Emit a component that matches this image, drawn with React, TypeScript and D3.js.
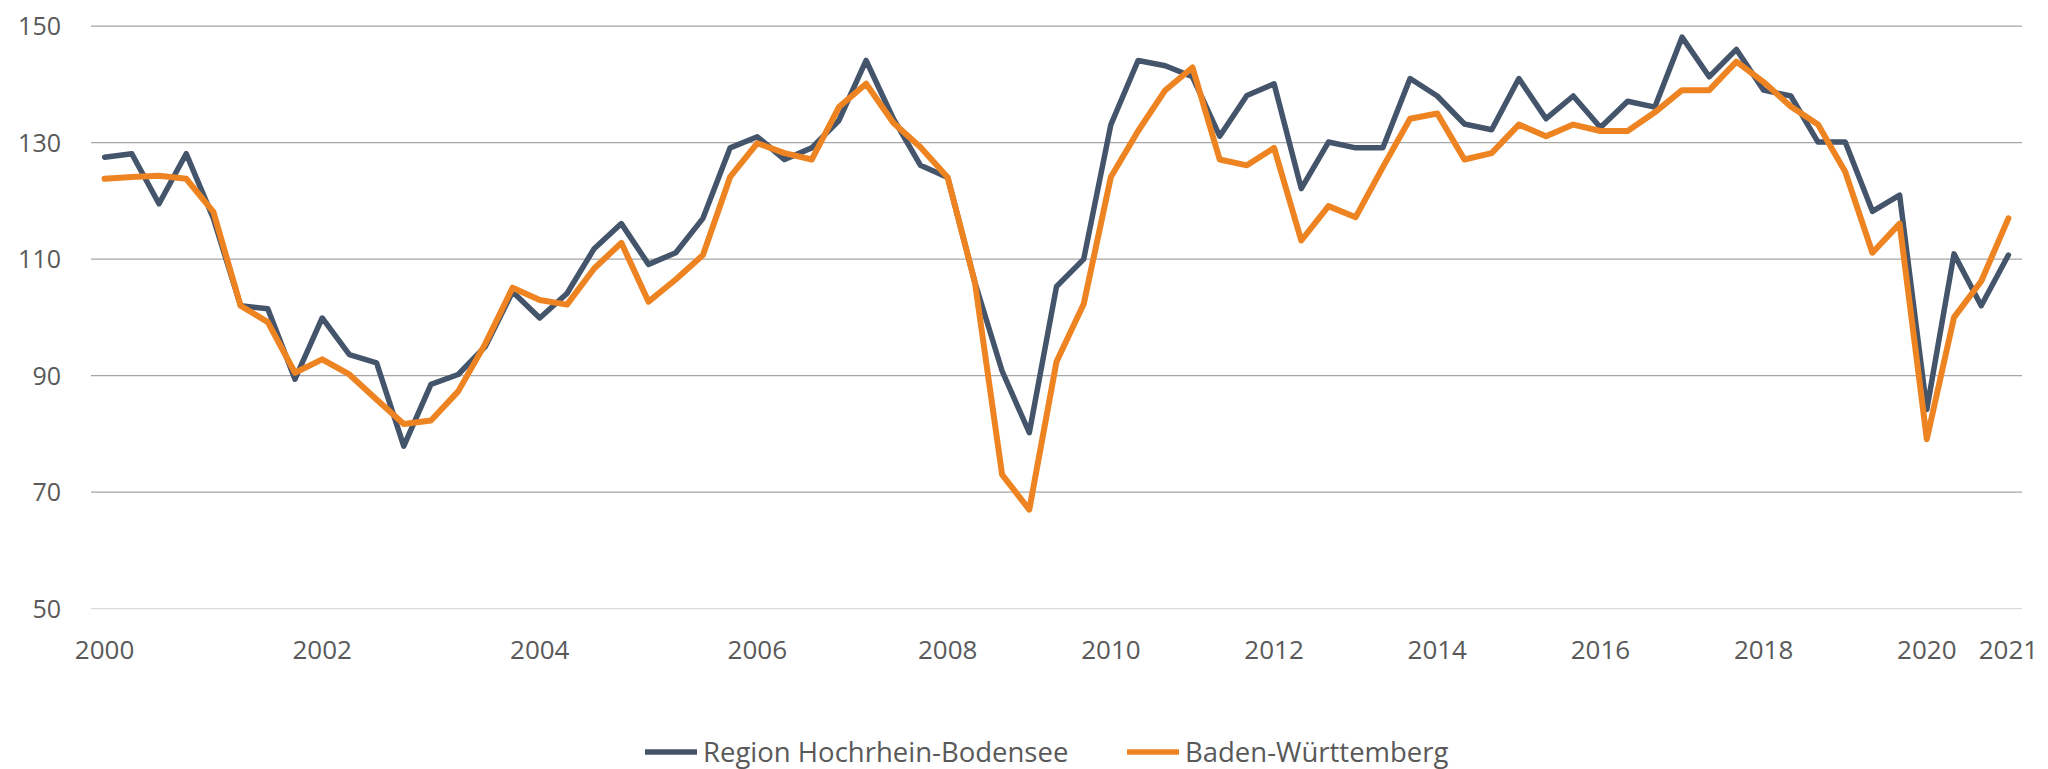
import * as d3 from "d3";

// quarterly until 2007, then three surveys per year
const tickIndex = [0, 8, 16, 24, 31, 37, 43, 49, 55, 61, 67, 70];
const tickLabels = ["2000", "2002", "2004", "2006", "2008", "2010", "2012", "2014", "2016", "2018", "2020", "2021"];

const region = [
	127.5, 128.1, 119.5, 128.1, 117, 102.0, 101.5, 89.4, 99.9, 93.6,
	92.2, 77.9, 88.5, 90.2, 95, 104.4, 99.9, 104.1, 111.8, 116.1,
	109.1, 111.1, 117.0, 129.1, 131.0, 127.1, 129.1, 133.8, 144.1, 134.1,
	126.1, 124.0, 106, 90.8, 80.2, 105.3, 110.0, 133.1, 144.1, 143.2,
	141.3, 131.1, 138.1, 140.1, 122.1, 130.1, 129.1, 129.1, 141.0, 138.0,
	133.2, 132.2, 141.0, 134.1, 138.0, 132.6, 137.1, 136.1, 148.1, 141.3,
	146.0, 139.0, 138.0, 130.1, 130.1, 118.2, 121.0, 84.2, 110.9, 102.0,
	110.7,
];

const bw = [
	123.8, 124.1, 124.3, 123.8, 118.1, 102, 99.2, 90.5, 92.8, 90.2,
	85.9, 81.7, 82.3, 87.3, 95.5, 105.1, 103.0, 102.2, 108.4, 112.8,
	102.7, 106.5, 110.7, 124.1, 129.9, 128.2, 127.1, 136.1, 140.1, 133.4,
	129.2, 124.0, 106, 73.0, 67.0, 92.4, 102.3, 124.1, 132.0, 139.0,
	142.9, 127.1, 126.1, 129.1, 113.2, 119.1, 117.2, 125.8, 134.1, 135.0,
	127.1, 128.2, 133.1, 131.1, 133.1, 132.0, 132.0, 135.2, 139.0, 139.0,
	143.9, 140.4, 136.2, 133.1, 125.0, 111.1, 116.1, 79.1, 100.0, 106.2,
	117.0,
];

const yTicks = [50, 70, 90, 110, 130, 150];

const series = [
	{ name: "Region Hochrhein-Bodensee", values: region, color: "#44546A", width: 5.5 },
	{ name: "Baden-Württemberg", values: bw, color: "#EE8322", width: 6 },
];

const W = 2048;
const H = 769;
const font = "'Open Sans', sans-serif";
const textColor = "#595959";

export default function App() {
	const x = d3
		.scaleBand<number>()
		.domain(d3.range(region.length))
		.range([91, 2022]);
	const y = d3.scaleLinear().domain([50, 150]).range([608.7, 26.1]);
	const cx = (i: number) => (x(i) ?? 0) + x.bandwidth() / 2;

	const line = d3
		.line<number>()
		.x((_, i) => cx(i))
		.y((d) => y(d));

	const legendX = [645, 1127];

	return (
		<svg
			width={W}
			height={H}
			style={{ position: "absolute", left: 0, top: 0, background: "#fff" }}
		>
			<g>
				{yTicks.map((t) => (
					<g key={t}>
						<line
							x1={91}
							x2={2022}
							y1={y(t)}
							y2={y(t)}
							stroke={t === 50 ? "#D9D9D9" : "#A6A6A6"}
							strokeWidth={1.3}
						/>
						<text
							x={61}
							y={y(t)}
							dy="0.36em"
							textAnchor="end"
							fontFamily={font}
							fontSize={25}
							fill={textColor}
						>
							{t}
						</text>
					</g>
				))}
			</g>
			<g>
				{tickIndex.map((idx, k) => (
					<text
						key={idx}
						x={cx(idx)}
						y={659}
						textAnchor="middle"
						fontFamily={font}
						fontSize={26}
						fill={textColor}
					>
						{tickLabels[k]}
					</text>
				))}
			</g>
			<g fill="none" strokeLinejoin="round" strokeLinecap="round">
				{series.map((s) => (
					<path
						key={s.name}
						d={line(s.values) ?? ""}
						stroke={s.color}
						strokeWidth={s.width}
					/>
				))}
			</g>
			<g>
				{series.map((s, i) => (
					<g key={s.name} transform={`translate(${legendX[i]},752)`}>
						<line x1={0} x2={52} y1={0} y2={0} stroke={s.color} strokeWidth={5.5} />
						<text
							x={58}
							dy="0.36em"
							fontFamily={font}
							fontSize={27.5}
							fill={textColor}
						>
							{s.name}
						</text>
					</g>
				))}
			</g>
		</svg>
	);
}
